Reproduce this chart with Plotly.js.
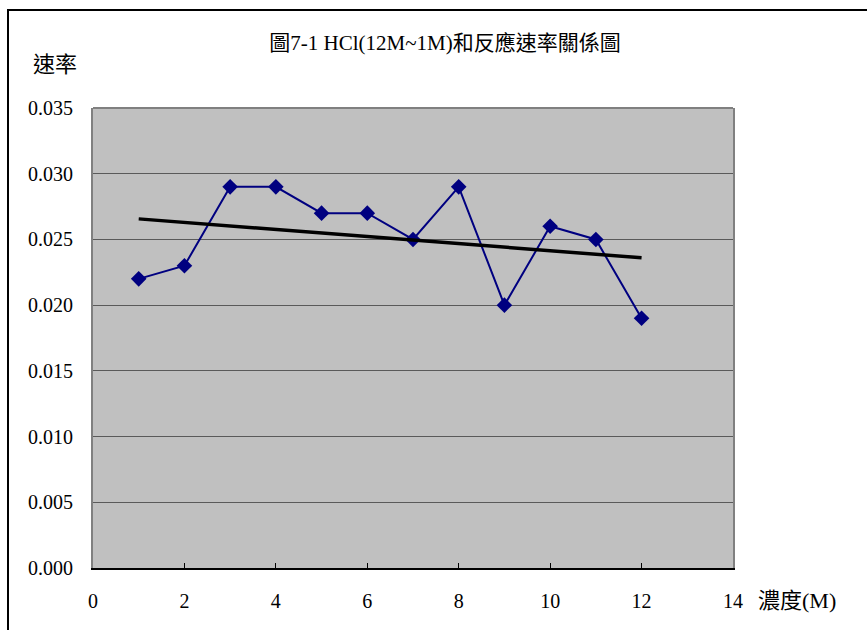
<!DOCTYPE html>
<html>
<head>
<meta charset="utf-8">
<script src="https://cdn.plot.ly/plotly-3.0.1.min.js"></script>
<style>
  html, body { margin: 0; padding: 0; background: #fff; }
  #wrap { position: relative; width: 867px; height: 630px; }
  #frame { position: absolute; left: 7px; top: 9px; width: 870px; height: 630px;
           border-left: 2px solid #000; border-top: 2px solid #000; pointer-events: none; }
  #chart { position: absolute; left: 0; top: 0; width: 867px; height: 630px; }
</style>
</head>
<body>
<div id="wrap">
  <div id="chart"></div>
  <div id="frame"></div>
</div>
<script>
const concentration = [1, 2, 3, 4, 5, 6, 7, 8, 9, 10, 11, 12];
const rate = [0.022, 0.023, 0.029, 0.029, 0.027, 0.027, 0.025, 0.029, 0.020, 0.026, 0.025, 0.019];
const titleText = '圖7-1 HCl(12M~1M)和反應速率關係圖';
const yLabel = '速率';
const xLabel = '濃度(M)';

// linear trend line (least squares) from the data
const n = concentration.length;
const mx = concentration.reduce((a, b) => a + b, 0) / n;
const my = rate.reduce((a, b) => a + b, 0) / n;
let sxy = 0, sxx = 0;
for (let i = 0; i < n; i++) {
  sxy += (concentration[i] - mx) * (rate[i] - my);
  sxx += (concentration[i] - mx) ** 2;
}
const slope = sxy / sxx;
const intercept = my - slope * mx;
const trendX = [concentration[0], concentration[n - 1]];
const trendY = trendX.map(x => intercept + slope * x);

const FONT = 'Liberation Serif, Noto Sans CJK TC, serif';

const traces = [
  {
    x: concentration, y: rate, type: 'scatter', mode: 'lines+markers',
    line: { color: '#000080', width: 2 },
    marker: { symbol: 'diamond', size: 12, color: '#000080' },
    hoverinfo: 'x+y'
  },
  {
    x: trendX, y: trendY, type: 'scatter', mode: 'lines',
    line: { color: '#000000', width: 3.5 },
    hoverinfo: 'skip'
  }
];

const layout = {
  width: 867, height: 630,
  margin: { l: 93, r: 134, t: 108, b: 62 },
  paper_bgcolor: '#ffffff',
  plot_bgcolor: '#c0c0c0',
  showlegend: false,
  font: { family: FONT, size: 20, color: '#000' },
  title: {
    text: titleText,
    font: { family: FONT, size: 21, color: '#000' },
    x: 0.55, xref: 'paper', xanchor: 'center',
    y: 0.933, yref: 'container', yanchor: 'middle'
  },
  xaxis: {
    range: [0, 14], dtick: 2, tick0: 0,
    showgrid: false, zeroline: false,
    showline: true, linecolor: '#000', linewidth: 2,
    ticks: 'inside', ticklen: 5, tickcolor: '#000', tickwidth: 1,
    ticklabelstandoff: 14,
    tickfont: { family: FONT, size: 20, color: '#000' }
  },
  yaxis: {
    range: [0, 0.035], dtick: 0.005, tick0: 0, tickformat: '.3f',
    showgrid: true, gridcolor: '#5a5a5a', gridwidth: 1,
    zeroline: false,
    showline: true, linecolor: '#808080', linewidth: 2, mirror: true,
    ticks: '', ticklabelstandoff: 14,
    tickfont: { family: FONT, size: 20, color: '#000' }
  },
  shapes: [
    { type: 'line', xref: 'paper', yref: 'paper', x0: 0, x1: 1, y0: 1, y1: 1,
      line: { color: '#808080', width: 2 } }
  ],
  annotations: [
    { text: yLabel, xref: 'paper', yref: 'paper', x: -0.06, y: 1.095,
      xanchor: 'center', yanchor: 'middle', showarrow: false,
      font: { family: FONT, size: 22, color: '#000' } },
    { text: xLabel, xref: 'paper', yref: 'paper', x: 1.10, y: -0.07,
      xanchor: 'center', yanchor: 'middle', showarrow: false,
      font: { family: FONT, size: 22, color: '#000' } }
  ]
};

Plotly.newPlot('chart', traces, layout, { displayModeBar: false, staticPlot: true });
</script>
</body>
</html>
